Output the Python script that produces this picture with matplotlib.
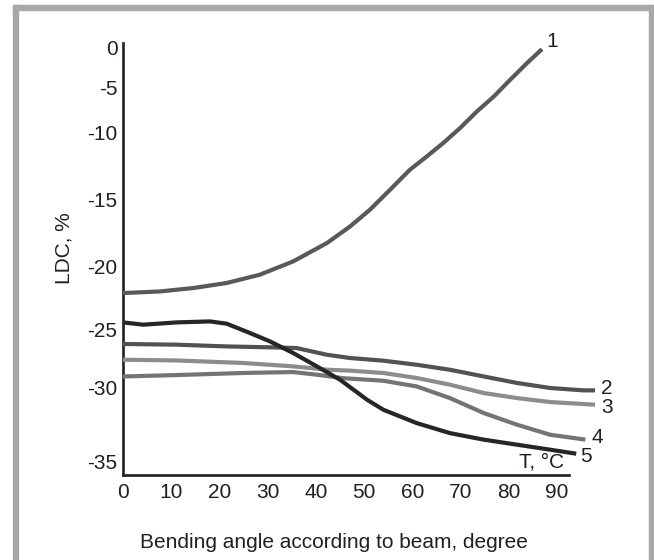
import numpy as np
import matplotlib
matplotlib.use('Agg')
import matplotlib.pyplot as plt
from matplotlib.patches import Rectangle

plt.rcParams['font.family'] = ['Liberation Sans', 'DejaVu Sans']

# bending angle, degree / LDC, %
x1 = [0, 7.7, 14.6, 21.5, 28.4, 35.3, 42.3, 47.1, 51.2, 55.4, 59.5, 63.0, 66.4, 69.9, 73.4, 76.9, 80.3, 83.8, 86.9]
y1 = [-22.09, -21.96, -21.69, -21.29, -20.63, -19.60, -18.23, -16.99, -15.75, -14.25, -12.76, -11.77, -10.77, -9.48, -7.63, -5.97, -4.0, -1.91, -0.16]

x2 = [0, 11.1, 21.5, 31.9, 36.0, 42.3, 47.1, 54.0, 60.9, 67.8, 74.8, 81.7, 88.6, 95.5, 97.9]
y2 = [-26.23, -26.29, -26.44, -26.53, -26.58, -27.16, -27.44, -27.67, -28.02, -28.45, -29.03, -29.59, -30.02, -30.18, -30.18]

x3 = [0, 11.1, 25.0, 35.3, 42.3, 47.1, 54.0, 60.9, 67.8, 74.8, 81.7, 88.6, 97.9]
y3 = [-27.59, -27.65, -27.87, -28.16, -28.45, -28.53, -28.73, -29.16, -29.74, -30.36, -30.70, -30.97, -31.15]

x4 = [0, 11.1, 25.0, 35.3, 40.2, 45.7, 54.0, 60.9, 67.8, 74.8, 81.7, 88.6, 95.9]
y4 = [-29.03, -28.91, -28.73, -28.65, -28.88, -29.18, -29.40, -29.89, -30.70, -31.71, -32.50, -33.18, -33.51]

x5 = [0, 4.2, 11.1, 18.0, 21.5, 26.3, 30.5, 35.3, 40.2, 45.0, 49.2, 50.6, 54.0, 60.9, 67.8, 74.8, 81.7, 88.6, 94.0]
y5 = [-24.42, -24.60, -24.42, -24.34, -24.52, -25.28, -26.01, -27.01, -28.16, -29.31, -30.47, -30.81, -31.49, -32.39, -33.07, -33.51, -33.85, -34.19, -34.46]

x_ticks = [0, 10, 20, 30, 40, 50, 60, 70, 80, 90]
y_ticks = [0, -5, -10, -15, -20, -25, -30, -35]

# the original axis is drawn by hand, ticks are not evenly spaced
tick_pix = [40, 48, 88, 133, 200, 267, 330, 388, 462, 476.8]
tick_val = [1, 0, -5, -10, -15, -20, -25, -30, -35, -36]
val_up = np.array(tick_val[::-1], dtype=float)
pos_up = -np.array(tick_pix[::-1], dtype=float)


def fwd(v):
    return np.interp(v, val_up, pos_up)


def inv(p):
    return np.interp(p, pos_up, val_up)


fig = plt.figure(figsize=(6.54, 5.6), dpi=100)
fig.patch.set_facecolor('white')
ax = fig.add_axes([123 / 654, 85 / 560, 446 / 654, 432 / 560])
ax.set_yscale('function', functions=(fwd, inv))

txt = '#231f20'
fs = 15

series = [
    (x1, y1, '#595959', '1', (7, 5.5)),
    (x2, y2, '#525252', '2', (8.4, 1.7)),
    (x3, y3, '#8c8c8c', '3', (8.4, -1.7)),
    (x4, y4, '#747474', '4', (8.9, 1.2)),
    (x5, y5, '#262626', '5', (7.2, -2)),
]
for xs, ys, col, lab, off in series:
    ax.plot(xs, ys, color=col, lw=3, solid_capstyle='butt', solid_joinstyle='round',
            clip_on=False, zorder=3)
    ax.annotate(lab, (xs[-1], ys[-1]), xytext=off, textcoords='offset points',
                ha='center', va='center', fontsize=fs, color=txt, annotation_clip=False)

ax.set_xlim(0, 92.5)
ax.set_ylim(-35.9, 0.6)
ax.set_xticks(x_ticks)
ax.set_yticks(y_ticks)
ax.set_yticklabels([str(v) for v in y_ticks])
ax.tick_params(length=0, labelsize=fs, labelcolor=txt)
ax.tick_params(axis='y', pad=4)
ax.tick_params(axis='x', pad=6)
for s in ['top', 'right']:
    ax.spines[s].set_visible(False)
for s in ['left', 'bottom']:
    ax.spines[s].set_linewidth(1.9)
    ax.spines[s].set_color(txt)

fig.text(564 / 654, 1 - 462 / 560, 'T, °C', ha='right', va='center', fontsize=fs, color=txt)
fig.text(334 / 654, 1 - 543 / 560, 'Bending angle according to beam, degree',
         ha='center', va='center', fontsize=fs, color=txt)
fig.text(64 / 654, 1 - 248 / 560, 'LDC, %', rotation=90,
         ha='center', va='center', fontsize=fs, color=txt)

# grey frame around the figure (no bottom edge)
frame = '#a7a8ab'
fig.patches.append(Rectangle((13 / 654, 0), 5 / 654, 1 - 5 / 560, transform=fig.transFigure, color=frame))
fig.patches.append(Rectangle((649 / 654, 0), 5 / 654, 1 - 5 / 560, transform=fig.transFigure, color=frame))
fig.patches.append(Rectangle((13 / 654, 1 - 10 / 560), 641 / 654, 5 / 560, transform=fig.transFigure, color=frame))

fig.savefig('out.png', dpi=100)
